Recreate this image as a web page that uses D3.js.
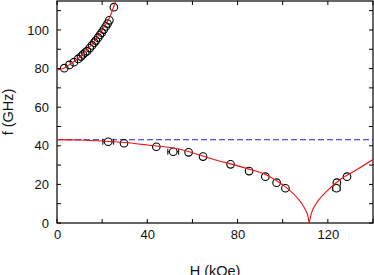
<!DOCTYPE html>
<html><head><meta charset="utf-8">
<script src="https://cdn.jsdelivr.net/npm/d3@7"></script>
<style>body{margin:0;background:#fff}svg{display:block}text{font-family:"Liberation Sans",Arial,sans-serif;fill:#111}</style>
</head><body><svg id="c" width="374" height="275"></svg>
<script>
const xTicks = [0, 40, 80, 120];
const yTicks = [0, 20, 40, 60, 80, 100];
const dashedLevel = 43.1;
// upper branch curve
const upperCurveH = [0, 3, 6.5, 10, 14.6, 19, 23.5, 26.1];
const upperCurveF = [79.3, 80.2, 82.8, 85.8, 91.3, 98.3, 106.9, 115.5];
// lower branch curve, left of cusp
const lowerLeftH = [0, 10, 20, 30, 40, 54.4, 69.2, 84, 92.8, 100.1, 106, 109.7, 111.2, 111.7];
const lowerLeftF = [43.2, 43.0, 42.5, 41.7, 40.4, 38.2, 33.0, 28.3, 24.9, 19.7, 13.6, 7.6, 3.3, 0];
// lower branch curve, right of cusp
const lowerRightH = [111.7, 112.7, 114.9, 119.3, 125.2, 132.6, 140];
const lowerRightF = [0, 5, 10.2, 16.2, 22.3, 27.5, 32.9];
// measured points
const upperPtsH = [3.2, 5.5, 7.5, 9.4, 10.6, 11.5, 12.5, 13.3, 14.5, 15.5, 16.5, 17.2, 18.2, 19, 19.8, 20.7, 21.6, 22.4, 23.2, 25.2];
const upperPtsF = [80.2, 81.9, 83.3, 85, 86.2, 87.3, 88.3, 89.0, 90.6, 92, 93.4, 94.5, 96, 97.4, 98.6, 100.2, 101.8, 103.3, 105, 111.8];
const lowerPtsH = [22.7, 29.7, 44.0, 51.5, 58.3, 64.7, 76.9, 85.1, 92.3, 97.3, 101.2, 124.0, 123.8, 128.5];
const lowerPtsF = [42.1, 41.3, 39.5, 36.9, 36.6, 34.4, 30.4, 26.9, 24.0, 20.9, 18.0, 20.9, 18.0, 24.0];
const lowerPtsErr = [2.4, 0, 0, 2.4, 0, 0, 0, 0, 0, 0, 0, 0, 1.6, 0];

const svg = d3.select("#c");
const L = 57, R = 373, T = 1, B = 223;
const x = d3.scaleLinear().domain([0, 140]).range([L, R]);
const y = d3.scaleLinear().domain([0, 115]).range([B, T]);

const g = svg.append("g");
const minorX = d3.range(0, 141, 20), minorY = d3.range(0, 116, 10);
const tl = 4;
minorX.forEach(v => {
  g.append("line").attr("x1", x(v)).attr("x2", x(v)).attr("y1", B).attr("y2", B - tl).attr("stroke", "#000");
  g.append("line").attr("x1", x(v)).attr("x2", x(v)).attr("y1", T).attr("y2", T + tl).attr("stroke", "#000");
});
minorY.forEach(v => {
  g.append("line").attr("y1", y(v)).attr("y2", y(v)).attr("x1", L).attr("x2", L + tl).attr("stroke", "#000");
  g.append("line").attr("y1", y(v)).attr("y2", y(v)).attr("x1", R).attr("x2", R - tl).attr("stroke", "#000");
});
const ax = d3.axisBottom(x).tickValues(xTicks).tickSize(0).tickPadding(7);
const ay = d3.axisLeft(y).tickValues(yTicks).tickSize(0).tickPadding(8);
const gx = svg.append("g").attr("transform", `translate(0,${B})`).call(ax);
const gy = svg.append("g").attr("transform", `translate(${L},0)`).call(ay);
[gx, gy].forEach(a => { a.select(".domain").remove(); a.selectAll("text").attr("font-size", 13).attr("fill", "#111").attr("font-family", "Liberation Sans, Arial, sans-serif"); });

svg.append("rect").attr("x", L).attr("y", T).attr("width", R - L).attr("height", B - T)
  .attr("fill", "none").attr("stroke", "#000").attr("stroke-width", 1.2);

svg.append("line").attr("x1", x(0)).attr("x2", x(140)).attr("y1", y(dashedLevel)).attr("y2", y(dashedLevel))
  .attr("stroke", "#2626c0").attr("stroke-width", 1.1).attr("stroke-dasharray", "6,3");

svg.append("clipPath").attr("id", "cp").append("rect").attr("x", L).attr("y", T).attr("width", R - L).attr("height", B - T);
const line = d3.line().x(d => x(d[0])).y(d => y(d[1])).curve(d3.curveMonotoneX);
const zip = (a, b) => a.map((v, i) => [v, b[i]]);

const pts = svg.append("g").attr("clip-path", "url(#cp)");
zip(upperPtsH, upperPtsF).forEach(d => {
  pts.append("circle").attr("cx", x(d[0])).attr("cy", y(d[1])).attr("r", 3.8).attr("fill", "none").attr("stroke", "#000").attr("stroke-width", 1.1);
});
lowerPtsH.forEach((h, i) => {
  const f = lowerPtsF[i], e = lowerPtsErr[i];
  if (e > 0) {
    pts.append("line").attr("x1", x(h - e)).attr("x2", x(h + e)).attr("y1", y(f)).attr("y2", y(f)).attr("stroke", "#000");
    [h - e, h + e].forEach(v => pts.append("line").attr("x1", x(v)).attr("x2", x(v)).attr("y1", y(f) - 3).attr("y2", y(f) + 3).attr("stroke", "#000"));
  }
  pts.append("circle").attr("cx", x(h)).attr("cy", y(f)).attr("r", 3.8).attr("fill", e > 0 ? "#fff" : "none").attr("stroke", "#000").attr("stroke-width", 1.1);
});

const cg = svg.append("g").attr("clip-path", "url(#cp)");
[[upperCurveH, upperCurveF], [lowerLeftH, lowerLeftF], [lowerRightH, lowerRightF]].forEach(([h, f]) => {
  cg.append("path").attr("d", line(zip(h, f))).attr("fill", "none").attr("stroke", "#ee1111").attr("stroke-width", 1.1);
});

svg.append("text").attr("x", (L + R) / 2).attr("y", 276).attr("text-anchor", "middle").attr("font-size", 14.5).text("H (kOe)");
svg.append("text").attr("transform", `translate(13,${(T + B) / 2}) rotate(-90)`).attr("text-anchor", "middle").attr("font-size", 14.5).text("f (GHz)");
</script></body></html>
